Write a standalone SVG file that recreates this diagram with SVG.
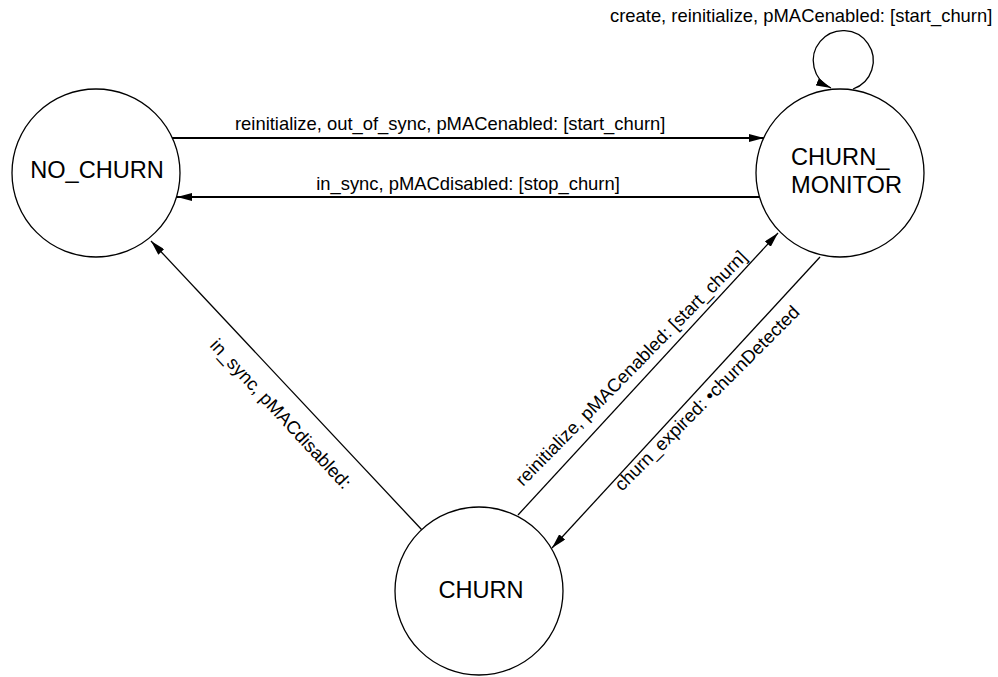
<svg xmlns="http://www.w3.org/2000/svg" width="998" height="677" viewBox="0 0 998 677">
  <style>
    .state { fill: #ffffff; stroke: #000000; stroke-width: 1.3; }
    .state-label { font-family: "Liberation Sans", Arial, sans-serif; font-size: 23.6px; fill: #000000; }
    .edge { fill: none; stroke: #000000; stroke-width: 1.3; }
    .edge.bold { stroke-width: 2; }
    .edge-label { font-family: "Liberation Sans", Arial, sans-serif; font-size: 18.4px; fill: #000000; }
  </style>
  <defs>
    <marker id="arrow" markerUnits="userSpaceOnUse" markerWidth="15" markerHeight="8" refX="15" refY="4" orient="auto">
      <path d="M0,0 L15,4 L0,8 z" fill="#000000"/>
    </marker>
  </defs>
  <rect width="998" height="677" fill="#ffffff"/>

  <!-- transitions -->
  <g id="connectors">
    <!-- NO_CHURN -> CHURN_MONITOR -->
    <line class="edge bold" x1="172" y1="138" x2="764" y2="138" marker-end="url(#arrow)"/>
    <!-- CHURN_MONITOR -> NO_CHURN -->
    <line class="edge bold" x1="760" y1="197" x2="177" y2="197" marker-end="url(#arrow)"/>
    <!-- CHURN -> NO_CHURN -->
    <line class="edge" x1="422" y1="530" x2="151" y2="241" marker-end="url(#arrow)"/>
    <!-- CHURN -> CHURN_MONITOR -->
    <line class="edge" x1="518" y1="515" x2="778" y2="233" marker-end="url(#arrow)"/>
    <!-- CHURN_MONITOR -> CHURN -->
    <line class="edge" x1="820" y1="257" x2="552" y2="548" marker-end="url(#arrow)"/>
    <!-- CHURN_MONITOR self transition -->
    <path class="edge" d="M853,89 A30,30 0 1 0 831,88" marker-end="url(#arrow)"/>

    <text class="edge-label" x="610" y="22">create, reinitialize, pMACenabled: [start_churn]</text>
    <text class="edge-label" x="235" y="130">reinitialize, out_of_sync, pMACenabled: [start_churn]</text>
    <text class="edge-label" x="468" y="190" text-anchor="middle">in_sync, pMACdisabled: [stop_churn]</text>
    <text class="edge-label" transform="translate(209,346) rotate(47)">in_sync, pMACdisabled:</text>
    <text class="edge-label" transform="translate(523,487) rotate(-45.5)">reinitialize, pMACenabled: [start_churn]</text>
    <text class="edge-label" transform="translate(622,492) rotate(-45)">churn_expired: •churnDetected</text>
  </g>

  <g id="NO_CHURN">
    <circle class="state" cx="96" cy="173" r="84"/>
    <text class="state-label" x="97" y="178" text-anchor="middle">NO_CHURN</text>
  </g>

  <g id="CHURN_MONITOR">
    <circle class="state" cx="840" cy="173" r="84"/>
    <text class="state-label" x="791" y="165">CHURN_</text>
    <text class="state-label" x="791" y="193">MONITOR</text>
  </g>

  <g id="CHURN">
    <circle class="state" cx="479" cy="591" r="84"/>
    <text class="state-label" x="481" y="598" text-anchor="middle">CHURN</text>
  </g>
</svg>
